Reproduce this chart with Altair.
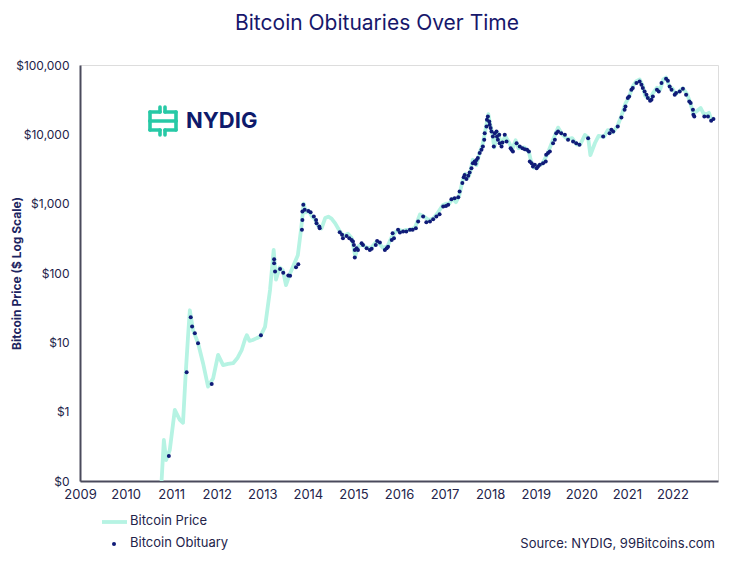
import altair as alt
import pandas as pd

# ---- Bitcoin price line (decimal year, USD) ----
line_year = [2010.79, 2010.84, 2010.89, 2010.97, 2011.08, 2011.19, 2011.26, 2011.32, 2011.37, 2011.41,
             2011.48, 2011.59, 2011.70, 2011.81, 2011.92, 2012.03, 2012.14, 2012.25, 2012.36, 2012.46,
             2012.55, 2012.62, 2012.66, 2012.72, 2012.79, 2012.88, 2012.95, 2013.06, 2013.17, 2013.25,
             2013.30, 2013.38, 2013.45, 2013.52, 2013.60, 2013.67, 2013.78, 2013.85, 2013.91, 2013.95,
             2014.01, 2014.09, 2014.15, 2014.22, 2014.30, 2014.38, 2014.45, 2014.52, 2014.60, 2014.70,
             2014.78, 2014.88, 2014.96, 2015.04, 2015.10, 2015.18, 2015.30, 2015.40, 2015.50, 2015.58,
             2015.65, 2015.75, 2015.84, 2015.92, 2016.00, 2016.08, 2016.16, 2016.25, 2016.35, 2016.46,
             2016.55, 2016.65, 2016.75, 2016.84, 2016.96, 2017.03, 2017.10, 2017.18, 2017.25, 2017.32,
             2017.40, 2017.46, 2017.52, 2017.56, 2017.62, 2017.70, 2017.77, 2017.83, 2017.88, 2017.96,
             2018.00, 2018.04, 2018.09, 2018.17, 2018.25, 2018.33, 2018.42, 2018.48, 2018.56, 2018.62,
             2018.75, 2018.85, 2018.90, 2018.96, 2019.05, 2019.15, 2019.25, 2019.37, 2019.49, 2019.58,
             2019.70, 2019.80, 2019.90, 2019.98, 2020.08, 2020.15, 2020.20, 2020.30, 2020.38, 2020.50,
             2020.58, 2020.70, 2020.80, 2020.88, 2020.97, 2021.05, 2021.12, 2021.20, 2021.28, 2021.35,
             2021.40, 2021.50, 2021.58, 2021.66, 2021.73, 2021.80, 2021.86, 2021.94, 2022.00, 2022.07,
             2022.15, 2022.23, 2022.32, 2022.38, 2022.46, 2022.55, 2022.62, 2022.68, 2022.75, 2022.80,
             2022.85, 2022.92]
line_price = [0.1, 0.39, 0.2, 0.28, 1.06, 0.76, 0.69, 3.6, 12, 29,
              15, 9.8, 5, 2.3, 3, 6.6, 4.7, 4.9, 5, 6,
              7.8, 11, 12.7, 10.5, 10.8, 11.5, 12, 16.7, 57, 215,
              80, 120, 110, 67, 95, 122, 180, 420, 1000, 750,
              800, 650, 600, 480, 440, 620, 650, 610, 520, 400,
              340, 370, 320, 175, 240, 260, 230, 235, 280, 260,
              230, 245, 330, 390, 420, 400, 420, 420, 450, 700,
              650, 580, 610, 720, 950, 1000, 1000, 1180, 1050, 1300,
              2200, 2700, 2400, 2800, 4300, 3600, 5500, 7000, 10000, 19500,
              14000, 11000, 6500, 10500, 7000, 9500, 7500, 6000, 8200, 6300,
              6500, 5600, 4000, 3300, 3500, 3800, 5100, 8000, 12500, 10000,
              8500, 8800, 7100, 7200, 9800, 9000, 5000, 7500, 9500, 9200,
              11500, 10700, 13500, 18500, 28000, 35000, 48000, 58000, 62000, 50000,
              36000, 32000, 40000, 47000, 44000, 62000, 66000, 48000, 46000, 38000,
              42000, 46000, 38000, 30000, 20000, 22000, 24000, 20000, 19500, 20500,
              16500, 17000]

# ---- Bitcoin obituaries (decimal year, price on the day) ----
obit_year = [2010.95, 2011.34, 2011.43, 2011.46, 2011.52, 2011.59, 2011.89, 2012.97,
             2013.26, 2013.26, 2013.28, 2013.39, 2013.46, 2013.57, 2013.61, 2013.74, 2013.79,
             2013.87, 2013.88, 2013.88, 2013.90, 2013.93, 2014.01, 2014.06, 2014.13, 2014.18,
             2014.19, 2014.25, 2014.26,
             2014.70, 2014.75, 2014.77, 2014.85, 2014.91, 2014.96, 2014.99, 2015.01, 2015.03,
             2015.07, 2015.10, 2015.03, 2015.18, 2015.21, 2015.29, 2015.36, 2015.40, 2015.49,
             2015.52, 2015.58, 2015.69, 2015.73, 2015.76, 2015.84, 2015.86, 2015.89, 2015.98,
             2016.02, 2016.09, 2016.16, 2016.24, 2016.30, 2016.37, 2016.42, 2016.53, 2016.60,
             2016.68, 2016.75, 2016.82, 2016.89, 2016.97, 2017.03, 2017.08,
             2017.15, 2017.22, 2017.30, 2017.33, 2017.39, 2017.42, 2017.44, 2017.48, 2017.52,
             2017.55, 2017.59, 2017.62, 2017.66, 2017.68, 2017.70, 2017.73, 2017.77, 2017.81,
             2017.84, 2017.87, 2017.88, 2017.92, 2017.93, 2017.95, 2017.98, 2017.99, 2018.01,
             2018.03, 2018.06, 2018.08, 2018.10, 2018.14, 2018.15, 2018.17, 2018.20, 2018.21,
             2018.25, 2018.27, 2018.32, 2018.36, 2018.45, 2018.47, 2018.50, 2018.58, 2018.65,
             2018.71, 2018.76, 2018.81, 2018.85, 2018.87, 2018.91, 2018.94, 2018.98, 2019.02,
             2019.05, 2019.09, 2019.16, 2019.22, 2019.23, 2019.27, 2019.31, 2019.38, 2019.42,
             2019.45, 2019.49, 2019.56, 2019.64, 2019.71, 2019.82, 2019.89, 2019.96, 2020.15,
             2020.48, 2020.62, 2020.66, 2020.70, 2020.80, 2020.88, 2020.95, 2020.97, 2021.02,
             2021.05, 2021.10, 2021.13, 2021.21, 2021.28, 2021.32, 2021.35, 2021.39, 2021.43,
             2021.46, 2021.51, 2021.54, 2021.57, 2021.66, 2021.70, 2021.76, 2021.86, 2021.90,
             2021.94, 2021.98, 2022.05, 2022.08, 2022.16, 2022.23, 2022.30, 2022.37, 2022.40,
             2022.45, 2022.46, 2022.48, 2022.70, 2022.78, 2022.85, 2022.90]
obit_price = [0.23, 3.7, 23, 16.9, 13.5, 9.7, 2.5, 12.6,
              158, 138, 105, 114, 101, 92, 91, 121, 134,
              419, 583, 769, 961, 815, 787, 753, 652, 583,
              523, 468, 443,
              388, 355, 318, 343, 318, 300, 284, 254, 215,
              228, 215, 167, 269, 254, 228, 215, 223, 254,
              290, 275, 215, 228, 240, 300, 375, 318, 419,
              383, 396, 396, 419, 419, 443, 552, 652, 541,
              552, 597, 652, 705, 908, 929, 961,
              1160, 1200, 1240, 1500, 1980, 2410, 2600, 2260, 2520,
              2810, 3250, 3840, 4050, 3750, 4280, 4540, 5360, 5980,
              6670, 8330, 10400, 13000, 16200, 18100, 15300, 13700, 12300,
              11000, 9300, 6670, 10400, 11000, 9300, 8330, 9840, 7460,
              6670, 7620, 9840, 7870, 6320, 5980, 5650, 7460, 6670,
              6320, 6110, 5980, 5650, 4050, 3840, 3430, 3630, 3250,
              3430, 3630, 3840, 4050, 5060, 5360, 5650, 7460, 8330,
              10400, 11000, 10400, 9840, 8330, 7870, 7460, 7050, 8800,
              9300, 10400, 11600, 11000, 13000, 17500, 22600, 25200, 33300,
              35100, 43900, 46400, 54800, 57800, 51800, 46400, 41500, 37200,
              33300, 30400, 31500, 35100, 43900, 41500, 54800, 63200, 59200,
              49000, 43900, 37200, 39400, 41500, 45400, 37200, 29700, 28200,
              22600, 19100, 18100, 18100, 18100, 15700, 16700]

year_ticks = list(range(2009, 2023))
price_ticks = [0.1, 1, 10, 100, 1000, 10000, 100000]

MINT = "#b6f3e3"
NAVY = "#101b78"
TEAL = "#27c9a6"
TEXT = "#23234a"
FONT = "Inter"

line_df = pd.DataFrame({"year": line_year, "price": line_price})
obit_df = pd.DataFrame({"year": obit_year, "price": obit_price})

x_enc = alt.X("year:Q",
              scale=alt.Scale(domain=[2009, 2023], nice=False, zero=False),
              axis=alt.Axis(values=year_ticks, format="d", title=None, grid=False, ticks=False,
                            labelFontSize=13, labelColor=TEXT, labelPadding=7,
                            domainColor="#4a4a5c", domainWidth=2, labelFont=FONT,
                            labelFlush=False, labelOverlap=False))
y_enc = alt.Y("price:Q",
              scale=alt.Scale(type="log", domain=[0.1, 100000], nice=False),
              axis=alt.Axis(values=price_ticks, grid=False, ticks=False,
                            labelExpr="datum.value < 1 ? '$0' : '$' + format(datum.value, ',')",
                            labelFontSize=12, labelColor=TEXT, labelPadding=11, labelFont=FONT,
                            domainColor="#4a4a5c", domainWidth=2,
                            title="Bitcoin Price ($ Log Scale)", titleFont=FONT, titleFontSize=12,
                            titleFontWeight="bold", titleColor="#1c2460",
                            titleX=-64, titleY=208, titleAngle=-90, titleBaseline="middle",
                            titleAlign="center"))

price_line = alt.Chart(line_df).mark_line(color=MINT, strokeWidth=3.8, strokeJoin="round",
                                          clip=True).encode(x=x_enc, y=y_enc)
obit_pts = alt.Chart(obit_df).mark_circle(color=NAVY, size=16, opacity=1).encode(
    x="year:Q", y="price:Q")

one = pd.DataFrame({"k": [0]})


def text_layer(txt, x, y, size, color=TEXT, align="left", weight="normal"):
    return alt.Chart(one).mark_text(text=txt, align=align, baseline="middle", fontSize=size,
                                    font=FONT, color=color, fontWeight=weight).encode(
        x=alt.value(x), y=alt.value(y))


title = text_layer("Bitcoin Obituaries Over Time", 297, -41, 21, color="#17176b", align="center")
legend_line = alt.Chart(one).mark_rule(color=MINT, strokeWidth=3.8).encode(
    x=alt.value(22), x2=alt.value(47), y=alt.value(457))
legend_text1 = text_layer("Bitcoin Price", 50, 456, 13)
legend_dot = alt.Chart(one).mark_circle(color=NAVY, size=16, opacity=1).encode(
    x=alt.value(34), y=alt.value(479))
legend_text2 = text_layer("Bitcoin Obituary", 50, 478, 13)
source = text_layer("Source: NYDIG, 99Bitcoins.com", 635, 479, 13, align="right")

# NYDIG logo (decorative)
seg_df = pd.DataFrame({
    "x0": [70, 80, 85, 85, 70, 70, 96, 70, 80, 85, 85, 96, 70],
    "x1": [80, 80, 96, 85, 70, 96, 96, 80, 80, 96, 85, 96, 70],
    "y0": [47, 42, 47, 42, 47, 56, 56, 65, 65, 65, 65, 47, 56],
    "y1": [47, 47, 47, 47, 56, 56, 65, 65, 70, 65, 70, 56, 65],
})
logo_icon = alt.Chart(seg_df).mark_rule(color=TEAL, strokeWidth=3.6, strokeCap="round").encode(
    x=alt.X("x0:Q", scale=None), x2="x1:Q", y=alt.Y("y0:Q", scale=None), y2="y1:Q")
logo_text = text_layer("NYDIG", 106, 56, 22, color="#0e1a6b", weight="bold")

chart = alt.layer(
    price_line, obit_pts, title, legend_line, legend_text1, legend_dot, legend_text2, source,
    logo_icon, logo_text
).properties(
    width=638, height=416,
    autosize=alt.AutoSizeParams(type="none"),
    padding={"left": 72, "top": 57, "right": 20, "bottom": 75},
).configure_view(stroke=None).configure(background="white")

chart.save("out.html", embed_options={"renderer": "svg", "actions": False})
